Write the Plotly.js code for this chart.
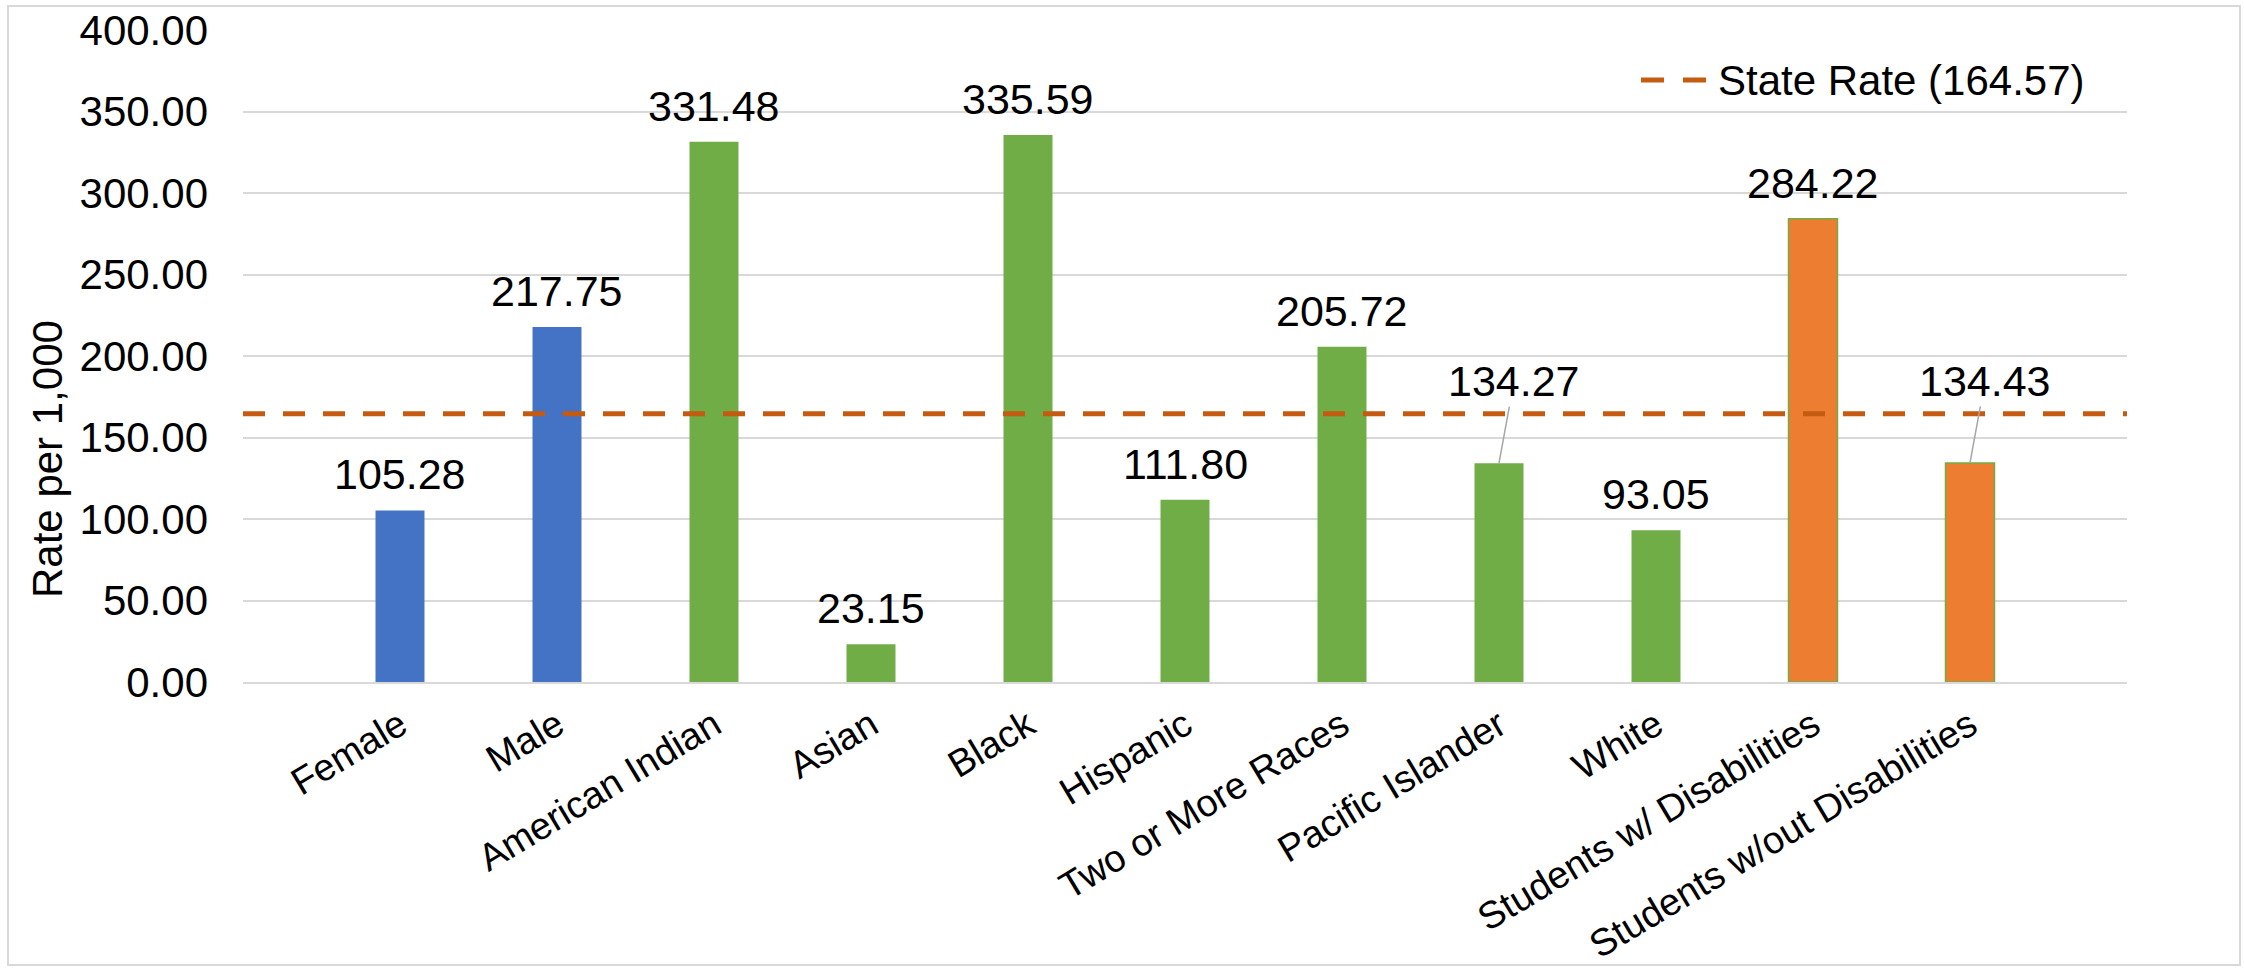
<!DOCTYPE html>
<html>
<head>
<meta charset="utf-8">
<script src="https://cdn.plot.ly/plotly-3.0.1.min.js"></script>
<style>html,body{margin:0;padding:0;background:#fff;}#chart{width:2244px;height:970px;}</style>
</head>
<body>
<div id="chart"></div>
<script>
const categories = ["Female", "Male", "American Indian", "Asian", "Black", "Hispanic",
  "Two or More Races", "Pacific Islander", "White", "Students w/ Disabilities", "Students w/out Disabilities"];
const rates = [105.28, 217.75, 331.48, 23.15, 335.59, 111.80, 205.72, 134.27, 93.05, 284.22, 134.43];
const groups = ["gender", "gender", "race", "race", "race", "race", "race", "race", "race", "disability", "disability"];
const stateRate = 164.57;
const stateLabel = "State Rate (164.57)";
const yTitle = "Rate per 1,000";
const leaderLabels = ["Pacific Islander", "Students w/out Disabilities"];

const groupColors = {gender: "#4472C4", race: "#70AD47", disability: "#ED7D31"};
const groupLines = {gender: "rgba(0,0,0,0)", race: "rgba(0,0,0,0)", disability: "#70AD47"};
const STATE_COLOR = "#C55A11";
const FONT = "Arial, 'Liberation Sans', sans-serif";
const idx = categories.map((c, i) => i);
const xRange = [-1, categories.length];

// pixel -> paper helpers (plot area: left 243, width 1884, bottom 682, height 652)
const px = v => (v - 243) / 1884;
const py = v => (682 - v) / 652;

const barTrace = {
  type: "bar",
  x: idx,
  y: rates,
  width: 0.312,
  marker: {
    color: groups.map(g => groupColors[g]),
    line: {color: groups.map(g => groupLines[g]), width: 1.5}
  },
  showlegend: false,
  hoverinfo: "skip"
};

const stateTrace = {
  type: "scatter",
  mode: "lines",
  x: xRange,
  y: [stateRate, stateRate],
  name: stateLabel,
  showlegend: false,
  line: {color: STATE_COLOR, width: 5, dash: "22px,18px"},
  hoverinfo: "skip"
};

const annotations = categories.map((c, i) => {
  const lead = leaderLabels.includes(c);
  const a = {
    x: i, y: rates[i], xref: "x", yref: "y",
    text: rates[i].toFixed(2),
    font: {family: FONT, size: 43, color: "#000"}
  };
  if (lead) {
    Object.assign(a, {showarrow: true, arrowhead: 0, arrowwidth: 1.5, arrowcolor: "#A6A6A6",
      ax: 15, ay: -82, standoff: 0, startstandoff: 0});
  } else {
    Object.assign(a, {showarrow: false, yanchor: "bottom", yshift: 10});
  }
  return a;
});

annotations.push({
  text: yTitle, xref: "paper", yref: "paper",
  x: px(47), y: py(459),
  xanchor: "center", yanchor: "middle", textangle: -90, showarrow: false,
  font: {family: FONT, size: 42, color: "#000"}
});

// legend text
annotations.push({
  text: stateLabel, xref: "paper", yref: "paper",
  x: px(1716), y: py(80), xanchor: "left", yanchor: "middle", showarrow: false,
  font: {family: FONT, size: 42, color: "#000"}
});

const legendDashes = [[1641, 1664], [1683, 1706]].map(([a, b]) => ({
  type: "line", xref: "paper", yref: "paper",
  x0: px(a), x1: px(b), y0: py(80), y1: py(80),
  line: {color: STATE_COLOR, width: 5}
}));

const layout = {
  width: 2244, height: 970,
  margin: {l: 243, r: 117, t: 30, b: 288},
  paper_bgcolor: "#fff", plot_bgcolor: "#fff",
  font: {family: FONT, color: "#000"},
  xaxis: {
    range: xRange, tickmode: "array", tickvals: idx, ticktext: categories,
    tickangle: -31, tickfont: {family: FONT, size: 38, color: "#000"},
    showgrid: false, zeroline: false, showline: true, linecolor: "#D9D9D9", linewidth: 2,
    ticks: "", ticklabelstandoff: 4, fixedrange: true
  },
  yaxis: {
    range: [0, 400], dtick: 50, tick0: 0, tickformat: ".2f",
    tickfont: {family: FONT, size: 42, color: "#000"},
    showgrid: true, gridcolor: "#D9D9D9", gridwidth: 2, zeroline: false, showline: false,
    ticks: "", ticklabelstandoff: 34, fixedrange: true
  },
  showlegend: false,
  annotations: annotations,
  shapes: [{
    type: "rect", xref: "paper", yref: "paper",
    x0: px(8), x1: px(2240), y0: py(965), y1: py(6),
    line: {color: "#D9D9D9", width: 2}, fillcolor: "rgba(0,0,0,0)", layer: "below"
  }].concat(legendDashes)
};

Plotly.newPlot("chart", [barTrace, stateTrace], layout, {displayModeBar: false, staticPlot: true});
</script>
</body>
</html>
